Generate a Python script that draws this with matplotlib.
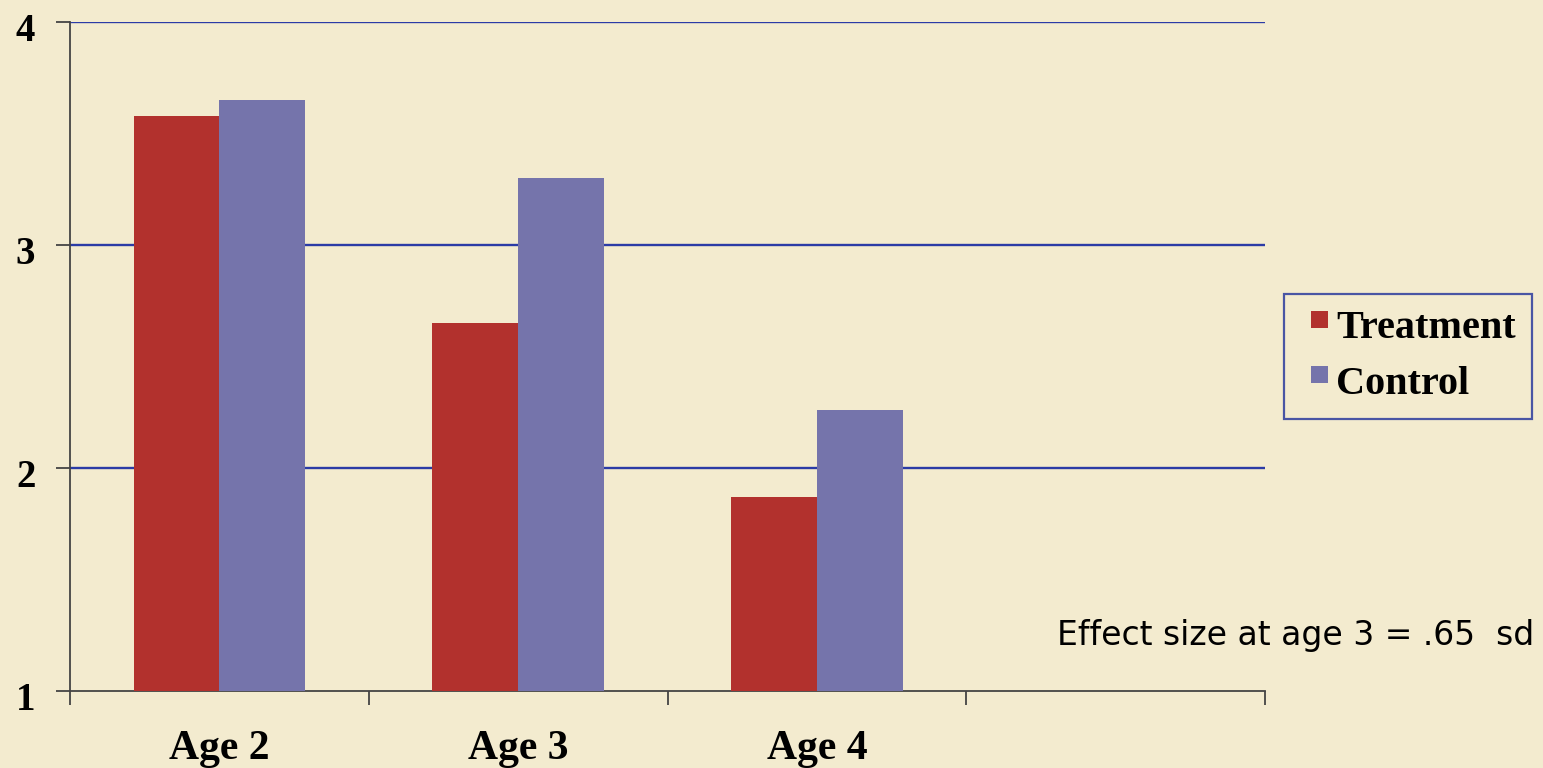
import numpy as np
import matplotlib.pyplot as plt
from matplotlib.transforms import ScaledTranslation
from matplotlib.patches import Rectangle
from matplotlib.container import BarContainer
from matplotlib.legend_handler import HandlerPatch, update_from_first_child

# values per age group
ages = ["Age 2", "Age 3", "Age 4"]
treatment = [3.58, 2.65, 1.87]
control = [3.65, 3.30, 2.26]
y_ticks = [1, 2, 3, 4]
note = "Effect size at age 3 = .65  sd"

bg = "#f3ebcf"
red = "#b2312d"
purple = "#7574ab"
grid_blue = "#2b3ba6"

fig = plt.figure(figsize=(15.43, 7.68), dpi=100, facecolor=bg)
ax = fig.add_axes([0.0454, 0.1003, 0.7744, 0.8711])
ax.set_facecolor(bg)

w = 0.2876
centers = np.arange(len(ages)) + 0.5
ax.bar(centers - w / 2, np.array(treatment) - 1, w, bottom=1, color=red, label="Treatment", zorder=3)
ax.bar(centers + w / 2, np.array(control) - 1, w, bottom=1, color=purple, label="Control", zorder=3)

ax.set_xlim(0, 4)
ax.set_ylim(1, 4)
for y in y_ticks[1:]:
    ax.axhline(y, color=grid_blue, lw=1.7, zorder=2)

for s in ["top", "right"]:
    ax.spines[s].set_visible(False)
for s in ["left", "bottom"]:
    ax.spines[s].set_color("#444444")
    ax.spines[s].set_linewidth(1.3)

ax.set_yticks(y_ticks)
ax.set_yticklabels([str(v) for v in y_ticks], fontfamily="Liberation Serif",
                   fontweight="bold", fontsize=28)
ax.tick_params(axis="y", length=10, width=1.3, color="#444444", pad=15)
# nudge the value labels a little below their gridlines
shift = ScaledTranslation(0, -5 / 100, fig.dpi_scale_trans)
for lbl in ax.get_yticklabels():
    lbl.set_transform(lbl.get_transform() + shift)

# category boundaries carry the ticks, labels sit at slot centers
ax.set_xticks(np.arange(0, 5))
ax.set_xticklabels([])
ax.tick_params(axis="x", length=10, width=1.3, color="#444444")
for c, lab in zip(centers, ages):
    ax.text(c, -0.058, lab, transform=ax.get_xaxis_transform(), ha="center", va="top",
            fontfamily="Liberation Serif", fontweight="bold", fontsize=30)


def small_square(legend, orig_handle, xdescent, ydescent, width, height, fontsize):
    # small square pushed to the right of the handle box, level with the cap tops
    s = 0.42 * fontsize
    return Rectangle((width - s - xdescent, height - s - 0.02 * fontsize - ydescent), s, s)


handles, labels = ax.get_legend_handles_labels()
leg = fig.legend(handles, labels, loc="upper left",
                 bbox_to_anchor=(1284 / 1543, 1 - 294 / 768),
                 borderaxespad=0, frameon=True, fancybox=False,
                 handlelength=0.7, handletextpad=0.2,
                 borderpad=0.4, labelspacing=0.45,
                 handler_map={BarContainer: HandlerPatch(patch_func=small_square,
                                                         update_func=update_from_first_child)},
                 prop={"family": "Liberation Serif", "weight": "bold", "size": 29})
leg.get_frame().set_edgecolor("#1f2f9a")
leg.get_frame().set_linewidth(1.6)
leg.get_frame().set_facecolor(bg)

fig.text(1057 / 1543, 1 - 635 / 768, note, ha="left", va="center",
         fontfamily="DejaVu Sans", fontsize=23.8)

fig.savefig("out.png", dpi=100, facecolor=bg)
